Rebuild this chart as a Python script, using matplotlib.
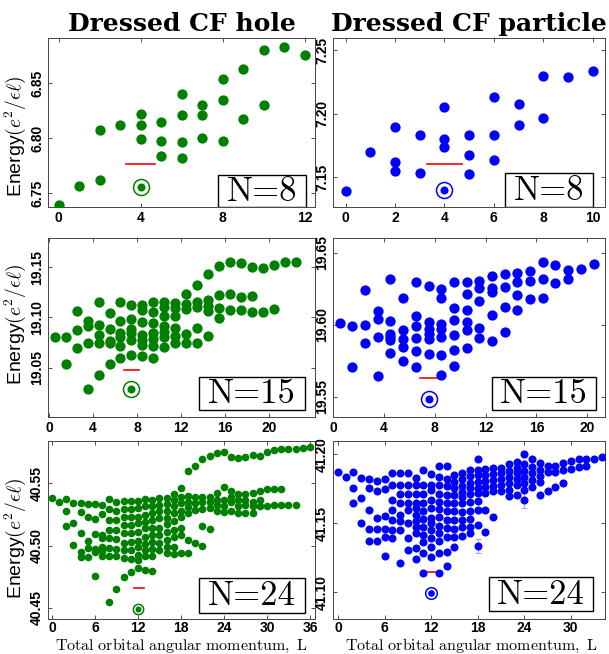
import numpy as np
import matplotlib
matplotlib.use("Agg")
import matplotlib.pyplot as plt
from matplotlib.patches import Rectangle

plt.rcParams['mathtext.fontset'] = 'cm'
plt.rcParams['font.family'] = ['Liberation Sans', 'DejaVu Sans']

# ---------------- data (energies grouped by angular momentum L) ----------------
# Dressed CF hole, N=8  (L = 0,1,2,...)
hole8_cols = [
    [6.7394], [6.7567], [6.8076, 6.7618], [6.8121],
    [6.8221, 6.8118, 6.7991], [6.8148, 6.7979, 6.7839],
    [6.8403, 6.8215, 6.7967, 6.7821], [6.8306, 6.8212, 6.8000],
    [6.8536, 6.8345, 6.7973], [6.8627, 6.8173], [6.8800, 6.8300],
    [6.8833], [6.8755],
]
hole8_ground = (4, 6.7555)
hole8_ref = (3.3, 4.7, 6.7764)

# Dressed CF particle, N=8
particle8_cols = [
    [7.1395], [7.1696], [7.1898, 7.1618, 7.1547], [7.1830, 7.1534],
    [7.2052, 7.1798, 7.1736], [7.1830, 7.1678, 7.1529],
    [7.2131, 7.1830, 7.1639], [7.2076, 7.1914], [7.2298, 7.1966],
    [7.2285], [7.2338],
]
particle8_ground = (4, 7.1398)
particle8_ref = (3.3, 4.7, 7.1605)

# Dressed CF hole, N=15  (L = 0.5,1.5,...)
hole15_cols = [
    [19.0803], [19.0810, 19.0533], [19.1060, 19.0877, 19.0700],
    [19.0960, 19.0910, 19.0750, 19.0287],
    [19.1157, 19.0920, 19.0830, 19.0747, 19.0427],
    [19.1047, 19.0887, 19.0767, 19.0750, 19.0533],
    [19.1150, 19.0960, 19.0847, 19.0807, 19.0720, 19.0600],
    [19.1127, 19.0980, 19.0887, 19.0843, 19.0773, 19.0630],
    [19.1120, 19.1077, 19.0953, 19.0827, 19.0777, 19.0730, 19.0620],
    [19.1150, 19.1057, 19.0940, 19.0843, 19.0790, 19.0717, 19.0600],
    [19.1150, 19.1100, 19.1017, 19.0913, 19.0860, 19.0807, 19.0710],
    [19.1147, 19.1090, 19.1017, 19.0900, 19.0817, 19.0750],
    [19.1233, 19.1137, 19.1087, 19.0837, 19.0743],
    [19.1320, 19.1157, 19.1107, 19.0900, 19.0750],
    [19.1433, 19.1170, 19.1117, 19.1067, 19.0820],
    [19.1517, 19.1223, 19.1093, 19.0993],
    [19.1550, 19.1233, 19.1077], [19.1543, 19.1200, 19.1073],
    [19.1500, 19.1210, 19.1053], [19.1493, 19.1053], [19.1527, 19.1080],
    [19.1550], [19.1553],
]
hole15_ground = (7.5, 19.0287)
hole15_ref = (6.8, 8.2, 19.0473)

# Dressed CF particle, N=15  (L = 0.5,1.5,...)
particle15_cols = [
    [19.6014], [19.5993, 19.5704], [19.6238, 19.5998, 19.5873],
    [19.6097, 19.6042, 19.5912, 19.5640],
    [19.6314, 19.6028, 19.5935, 19.5917, 19.5896, 19.5801],
    [19.6187, 19.5965, 19.5898, 19.5843, 19.5744],
    [19.6298, 19.6062, 19.5993, 19.5910, 19.5818, 19.5704],
    [19.6270, 19.6021, 19.5972, 19.5938, 19.5898, 19.5797],
    [19.6247, 19.6182, 19.6005, 19.5968, 19.5912, 19.5792, 19.5647],
    [19.6298, 19.6118, 19.6035, 19.5931, 19.5822, 19.5711],
    [19.6293, 19.6215, 19.6102, 19.6016, 19.5961, 19.5838],
    [19.6305, 19.6256, 19.6162, 19.5975, 19.5908],
    [19.6335, 19.6254, 19.6226, 19.6069, 19.5887],
    [19.6353, 19.6261, 19.6120, 19.5952],
    [19.6356, 19.6298, 19.6206, 19.6104],
    [19.6370, 19.6305, 19.6178], [19.6434, 19.6314, 19.6182],
    [19.6416, 19.6289], [19.6381, 19.6314], [19.6390], [19.6420],
]
particle15_ground = (7.5, 19.5483)
particle15_ref = (6.85, 8.2, 19.5630)

# Dressed CF hole, N=24  (L = 0,1,2,...)
hole24_cols = [
    [40.5381], [40.5348], [40.5378, 40.5281, 40.5158],
    [40.5340, 40.5185, 40.5005],
    [40.5340, 40.5271, 40.5099, 40.4946, 40.4906],
    [40.5335, 40.5233, 40.5040, 40.4981, 40.4906],
    [40.5335, 40.5217, 40.5091, 40.4976, 40.4944, 40.4756],
    [40.5324, 40.5255, 40.5086, 40.5062, 40.4992, 40.4952, 40.4917],
    [40.5375, 40.5292, 40.5209, 40.5126, 40.5059, 40.4979, 40.4917, 40.4542],
    [40.5346, 40.5281, 40.5204, 40.5126, 40.5054, 40.4971, 40.4912, 40.4649],
    [40.5356, 40.5295, 40.5233, 40.5166, 40.5099, 40.5024, 40.4965, 40.4898, 40.4745],
    [40.5356, 40.5292, 40.5233, 40.5163, 40.5099, 40.5029, 40.4960, 40.4895, 40.4783],
    [40.5359, 40.5303, 40.5233, 40.5180, 40.5105, 40.5040, 40.4992, 40.4922, 40.4885, 40.4823],
    [40.5375, 40.5314, 40.5249, 40.5193, 40.5142, 40.5072, 40.5013, 40.4960, 40.4912, 40.4804],
    [40.5367, 40.5314, 40.5263, 40.5206, 40.5142, 40.5083, 40.5029, 40.4971, 40.4917, 40.4796],
    [40.5381, 40.5327, 40.5276, 40.5222, 40.5142, 40.5083, 40.5019, 40.4960],
    [40.5386, 40.5335, 40.5281, 40.5222, 40.5174, 40.5110, 40.5046, 40.4992, 40.4936],
    [40.5415, 40.5367, 40.5314, 40.5260, 40.5201, 40.5126, 40.5072, 40.4992, 40.4933],
    [40.5466, 40.5394, 40.5340, 40.5281, 40.5228, 40.5137, 40.5086, 40.4938],
    [40.5598, 40.5399, 40.5354, 40.5308, 40.5260, 40.5046, 40.4938],
    [40.5641, 40.5389, 40.5340, 40.5287, 40.5019],
    [40.5697, 40.5394, 40.5346, 40.5292, 40.5158, 40.4997],
    [40.5716, 40.5394, 40.5348, 40.5300, 40.5131],
    [40.5742, 40.5426, 40.5367, 40.5327, 40.5281],
    [40.5756, 40.5472, 40.5367, 40.5319, 40.5273],
    [40.5708, 40.5442, 40.5389, 40.5346, 40.5276],
    [40.5702, 40.5415, 40.5367, 40.5319, 40.5265],
    [40.5710, 40.5415, 40.5367, 40.5322, 40.5265],
    [40.5729, 40.5426, 40.5354, 40.5314, 40.5265],
    [40.5721, 40.5442, 40.5367, 40.5314],
    [40.5756, 40.5453, 40.5319], [40.5769, 40.5458, 40.5327],
    [40.5775, 40.5458, 40.5327], [40.5775, 40.5327], [40.5775, 40.5327],
    [40.5785], [40.5796],
]
hole24_ground = (12, 40.4488)
hole24_ref = (11.4, 12.8, 40.4662)

# Dressed CF particle, N=24  (L = 0,1,2,...)
particle24_cols = [
    [41.1872], [41.1838], [41.1872, 41.1756, 41.1650], [41.1828, 41.1686, 41.1500],
    [41.1821, 41.1756, 41.1599, 41.1461, 41.1374],
    [41.1809, 41.1734, 41.1541, 41.1457, 41.1374],
    [41.1819, 41.1746, 41.1556, 41.1461, 41.1403, 41.1263],
    [41.1862, 41.1778, 41.1669, 41.1597, 41.1524, 41.1452, 41.1391],
    [41.1862, 41.1778, 41.1713, 41.1650, 41.1560, 41.1514, 41.1452, 41.1215],
    [41.1862, 41.1780, 41.1713, 41.1650, 41.1597, 41.1500, 41.1394, 41.1307],
    [41.1831, 41.1775, 41.1713, 41.1650, 41.1609, 41.1558, 41.1519, 41.1471, 41.1428, 41.1324, 41.1239],
    [41.1886, 41.1780, 41.1713, 41.1650, 41.1592, 41.1531, 41.1476, 41.1415, 41.1367, 41.1287, 41.1140],
    [41.1855, 41.1780, 41.1741, 41.1669, 41.1614, 41.1541, 41.1505, 41.1452, 41.1391, 41.1331, 41.1259],
    [41.1915, 41.1833, 41.1775, 41.1710, 41.1657, 41.1601, 41.1548, 41.1481, 41.1428, 41.1374, 41.1287, 41.1140],
    [41.1915, 41.1824, 41.1770, 41.1705, 41.1645, 41.1587, 41.1524, 41.1464, 41.1403, 41.1295, 41.1193],
    [41.1853, 41.1802, 41.1754, 41.1705, 41.1650, 41.1587, 41.1524, 41.1457, 41.1399, 41.1326],
    [41.1862, 41.1819, 41.1770, 41.1729, 41.1688, 41.1650, 41.1585, 41.1524, 41.1471, 41.1408],
    [41.1886, 41.1843, 41.1795, 41.1754, 41.1713, 41.1657, 41.1592, 41.1529, 41.1476, 41.1432],
    [41.1964, 41.1886, 41.1847, 41.1802, 41.1758, 41.1717, 41.1662, 41.1597, 41.1488, 41.1336],
    [41.1891, 41.1850, 41.1807, 41.1766, 41.1722, 41.1597, 41.1437],
    [41.1898, 41.1857, 41.1814, 41.1773, 41.1732, 41.1543],
    [41.1903, 41.1862, 41.1821, 41.1775, 41.1737],
    [41.1927, 41.1882, 41.1838, 41.1790, 41.1742, 41.1698],
    [41.1947, 41.1903, 41.1862, 41.1819, 41.1775, 41.1708],
    [41.2000, 41.1927, 41.1879, 41.1838, 41.1795, 41.1742, 41.1669],
    [41.1964, 41.1911, 41.1862, 41.1814, 41.1766],
    [41.1935, 41.1886, 41.1843, 41.1799, 41.1708],
    [41.1915, 41.1874, 41.1737], [41.1915, 41.1874, 41.1766],
    [41.1935, 41.1886, 41.1790], [41.1952, 41.1891], [41.1964, 41.1911],
    [41.1968, 41.1915], [41.1968], [41.1983],
]
particle24_ground = (12, 41.0993)
particle24_ref = (11, 13, 41.1145)
particle24_err_L = [11, 13, 18, 24, 24]
particle24_err_E = [41.1140, 41.1140, 41.1336, 41.2000, 41.1669]
particle24_err = [0.0015, 0.0015, 0.0048, 0.0022, 0.0060]

titles = ["Dressed CF hole", "Dressed CF particle"]
size_labels = ["N=8", "N=8", "N=15", "N=15", "N=24", "N=24"]
xlabel_text = "Total orbital angular momentum, L"


def expand(cols, start):
    L, E = [], []
    for i, col in enumerate(cols):
        for e in col:
            L.append(start + i)
            E.append(e)
    return np.array(L), np.array(E)


# ---------------- figure ----------------
W, H = 609, 654
fig = plt.figure(figsize=(W / 100, H / 100), dpi=100)


def px_axes(x0, x1, y0, y1):
    return fig.add_axes([x0 / W, 1 - y1 / H, (x1 - x0) / W, (y1 - y0) / H])


GREEN = '#008000'
BLUE = '#0000FF'

panels = [
    dict(cols=hole8_cols, start=0, ground=hole8_ground, ref=hole8_ref, color=GREEN,
         box=(48.3, 315, 38.3, 206.7), xlim=(-0.5, 12.5), ylim=(6.7378, 6.8909),
         xticks=[0, 4, 8, 12], yticks=[6.75, 6.80, 6.85], ms=7.4, gms=(5.8, 11.5),
         lab=(0.637, 0.966, 0.0, 0.188), ylab_y=0.42),
    dict(cols=particle8_cols, start=0, ground=particle8_ground, ref=particle8_ref, color=BLUE,
         box=(333.3, 605, 38.3, 206.7), xlim=(-0.5, 10.5), ylim=(7.1269, 7.2592),
         xticks=[0, 2, 4, 6, 8, 10], yticks=[7.15, 7.20, 7.25], ms=7.4, gms=(5.8, 11.5),
         lab=(0.632, 0.955, 0.0, 0.198)),
    dict(cols=hole15_cols, start=0.5, ground=hole15_ground, ref=hole15_ref, color=GREEN,
         box=(48.3, 315, 238.3, 416.7), xlim=(-0.07, 24.2), ylim=(19.001, 19.179),
         xticks=[0, 4, 8, 12, 16, 20], yticks=[19.05, 19.10, 19.15], ms=7.4, gms=(5.8, 11.5),
         lab=(0.566, 0.963, 0.038, 0.224), ylab_y=0.52),
    dict(cols=particle15_cols, start=0.5, ground=particle15_ground, ref=particle15_ref, color=BLUE,
         box=(333.3, 605, 238.3, 416.7), xlim=(0.0, 21.4), ylim=(19.536, 19.660),
         xticks=[0, 4, 8, 12, 16, 20], yticks=[19.55, 19.60, 19.65], ms=7.4, gms=(5.8, 11.5),
         lab=(0.583, 0.967, 0.038, 0.224)),
    dict(cols=hole24_cols, start=0, ground=hole24_ground, ref=hole24_ref, color=GREEN,
         box=(48.3, 315, 440.7, 619), xlim=(-0.5, 36.7), ylim=(40.4409, 40.5843),
         xticks=[0, 6, 12, 18, 24, 30, 36], yticks=[40.45, 40.50, 40.55], ms=5.5, gms=(4.3, 7.4),
         lab=(0.566, 0.963, 0.035, 0.228), ylab_y=0.45),
    dict(cols=particle24_cols, start=0, ground=particle24_ground, ref=particle24_ref, color=BLUE,
         box=(333.3, 605, 440.7, 619), xlim=(-0.6, 34.4), ylim=(41.0807, 41.2099),
         xticks=[0, 6, 12, 18, 24, 30], yticks=[41.10, 41.15, 41.20], ms=5.8, gms=(4.8, 8.4),
         lab=(0.574, 0.957, 0.045, 0.237)),
]

axes = []
for k, p in enumerate(panels):
    ax = px_axes(*p['box'])
    axes.append(ax)
    L, E = expand(p['cols'], p['start'])
    if k == 5:
        ax.errorbar(particle24_err_L, particle24_err_E, yerr=particle24_err, fmt='none',
                    ecolor='#A8A8F0', elinewidth=0.8, capsize=2, capthick=0.8, zorder=1)
    ax.plot(L, E, 'o', color=p['color'], ms=p['ms'], mec='none', zorder=3)
    gL, gE = p['ground']
    ax.plot([gL], [gE], 'o', color=p['color'], ms=p['gms'][0], mec='none', zorder=3)
    ax.plot([gL], [gE], 'o', mfc='none', mec=p['color'], ms=p['gms'][1], mew=1.1, zorder=3)
    r0, r1, rE = p['ref']
    ax.plot([r0, r1], [rE, rE], '-', color='#FF0000', lw=1.2, zorder=2)

    ax.set_xlim(*p['xlim'])
    ax.set_ylim(*p['ylim'])
    ax.set_xticks(p['xticks'])
    ax.set_yticks(p['yticks'])
    ax.set_yticklabels(['%.2f' % v for v in p['yticks']], rotation=90, va='center')
    ax.tick_params(direction='in', length=3, width=0.6, top=True, right=True,
                   labelsize=10, pad=3, color='#333333')
    if k >= 4:
        ax.tick_params(axis='x', pad=1.5)
    for lab in ax.get_xticklabels() + ax.get_yticklabels():
        lab.set_fontweight('bold')
    for s in ax.spines.values():
        s.set_linewidth(0.7)
        s.set_color('#444444')

    x0, x1, y0, y1 = p['lab']
    ax.add_patch(Rectangle((x0, y0), x1 - x0, y1 - y0, transform=ax.transAxes,
                           facecolor='white', edgecolor='black', lw=1.0, zorder=5))
    ax.text((x0 + x1) / 2, (y0 + y1) / 2 - 0.005, size_labels[k], transform=ax.transAxes,
            ha='center', va='center', fontsize=25, family='cmr10', zorder=6)

    if k % 2 == 0:
        ax.set_ylabel(r'Energy$(e^2/\epsilon\ell)$', fontsize=14, ha='center', va='center')
        ax.yaxis.set_label_coords(-0.122, p['ylab_y'])

# titles
fig.text((48.3 + 315) / 2 / W, 1 - 31 / H, titles[0], family='DejaVu Serif', fontweight='bold',
         ha='center', va='baseline', fontsize=18)
fig.text((333.3 + 605) / 2 / W, 1 - 31 / H, titles[1], family='DejaVu Serif', fontweight='bold',
         ha='center', va='baseline', fontsize=18)

# x labels
xl = r'$\mathrm{%s}$' % xlabel_text.replace(' ', r'\ ')
fig.text((48.3 + 315) / 2 / W, 1 - 649.5 / H, xl, ha='center', va='baseline', fontsize=11.5)
fig.text((333.3 + 605) / 2 / W + 2 / W, 1 - 649.5 / H, xl, ha='center', va='baseline', fontsize=11.5)

fig.savefig('out.png', dpi=100)
